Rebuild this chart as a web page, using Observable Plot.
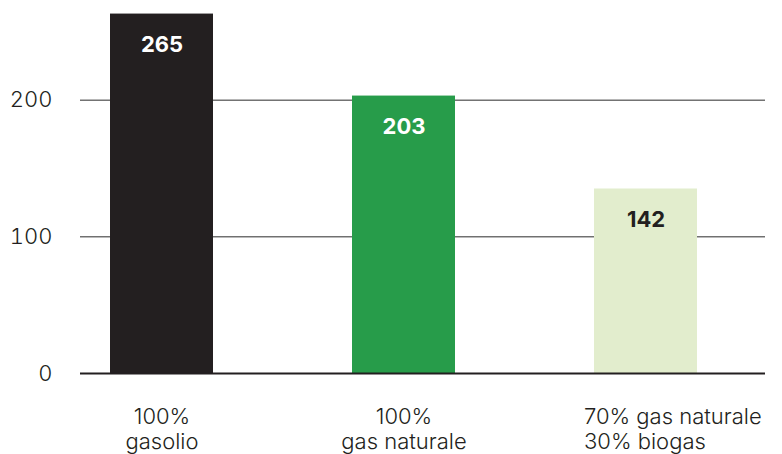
<!DOCTYPE html>
<html><head><meta charset="utf-8">
<script src="https://cdn.jsdelivr.net/npm/d3@7"></script>
<script src="https://cdn.jsdelivr.net/npm/@observablehq/plot@0.6"></script>
<style>body{margin:0;background:#fff;overflow:hidden}</style>
</head><body><div id="chart"></div>
<script>
const categories = ["100%\ngasolio", "100%\ngas naturale", "70% gas naturale\n30% biogas"];
const barValues = [263, 203, 135];
const valueLabels = ["265", "203", "142"];
const barColors = ["#231f20", "#279c4a", "#e2edcd"];
const labelColors = ["#ffffff", "#ffffff", "#231f20"];
const yTicks = [0, 100, 200];
const gridTicks = [100, 200];

const data = categories.map((c, i) => ({
  category: c, value: barValues[i], label: valueLabels[i],
  color: barColors[i], labelColor: labelColors[i]
}));

const chart = Plot.plot({
  width: 782, height: 454,
  marginLeft: 80, marginRight: 17, marginTop: 4, marginBottom: 81,
  style: {fontFamily: "Inter, Lato, sans-serif", fontSize: "22px", fontWeight: 300, color: "#231f20", background: "#fff"},
  x: {domain: categories, paddingInner: 0.575, paddingOuter: 0.2, align: 0.31, axis: null},
  y: {domain: [0, 270], ticks: yTicks, tickSize: 0, tickPadding: 28, label: null},
  color: {type: "identity"},
  marks: [
    Plot.ruleY(gridTicks, {stroke: "#2b2b2b", strokeWidth: 1}),
    Plot.barY(data, {x: "category", y: "value", fill: "color"}),
    Plot.ruleY([0], {stroke: "#231f20", strokeWidth: 2}),
    Plot.text(data, {x: "category", y: "value", text: "label", fill: "labelColor", dy: 31, fontWeight: 700, fontSize: 22}),
    Plot.text(data.slice(0, 2), {x: "category", text: "category", frameAnchor: "bottom", lineAnchor: "top", dy: 33, lineHeight: 1.13, fontSize: 22, fill: "#231f20"}),
    Plot.text(data.slice(2), {x: "category", text: "category", frameAnchor: "bottom", lineAnchor: "top", textAnchor: "start", dx: -62, dy: 33, lineHeight: 1.13, fontSize: 22, fill: "#231f20"})
  ]
});
document.getElementById("chart").appendChild(chart);
</script>
</body></html>
